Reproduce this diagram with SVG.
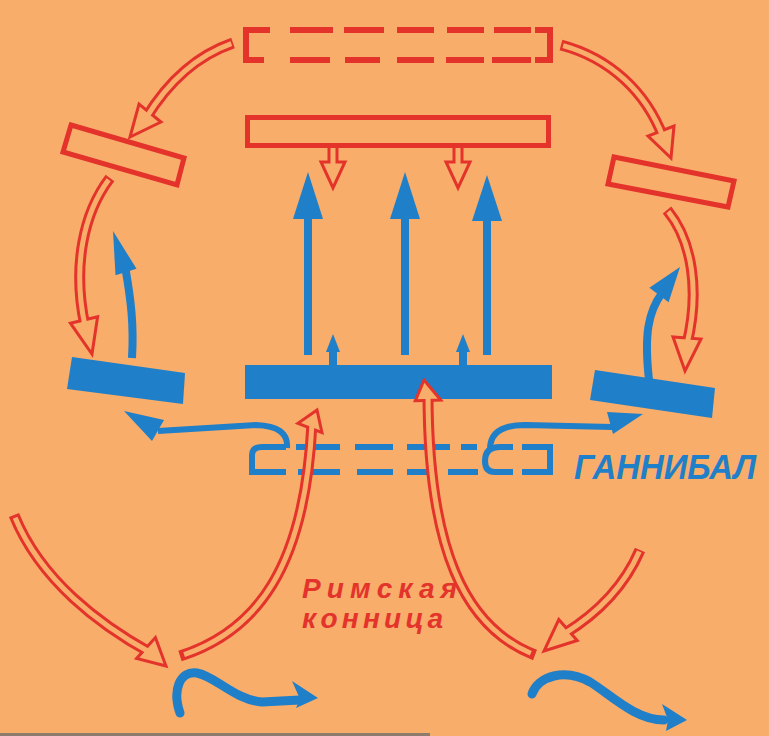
<svg xmlns="http://www.w3.org/2000/svg" width="769" height="736" viewBox="0 0 769 736">
<style>
.bg{fill:#F8AD6B}
.rl{fill:none;stroke:#E3332B;stroke-width:6}
.rbox{fill:none;stroke:#E3332B;stroke-width:5;stroke-linejoin:miter}
.rs{fill:none;stroke:#E3332B;stroke-width:11}
.ri{fill:none;stroke:#F8AD6B;stroke-width:5;stroke-dasharray:98.5 1.5;stroke-dashoffset:98.5}
.rh{fill:#F8AD6B;stroke:#E3332B;stroke-width:3;stroke-linejoin:miter}
.rd{fill:#F8AD6B;stroke:#E3332B;stroke-width:3}
.bf{fill:#1F7FC8}
.bs{fill:none;stroke:#1F7FC8;stroke-width:8;stroke-linecap:butt}
.bw{fill:none;stroke:#1F7FC8;stroke-width:9;stroke-linecap:round}
.bl{fill:none;stroke:#1F7FC8;stroke-width:6}
.tb{font-family:"Liberation Sans",Arial,sans-serif;font-weight:bold;font-style:italic;fill:#1F7FC8}
.tr{font-family:"Liberation Sans",Arial,sans-serif;font-weight:bold;font-style:italic;fill:#E3332B}
</style>
<rect class="bg" x="0" y="0" width="769" height="736"/>
<rect x="0" y="733" width="430" height="3" fill="#8d7b6e"/>

<g id="roman-rear-dashed">
<path class="rl" d="M270,30 L246,30 L246,60 L264,60"/>
<path class="rl" d="M290,30 H333 M344,30 H384 M397,30 H434 M447,30 H484 M494,30 H531"/>
<path class="rl" d="M290,60 H330 M345,60 H380 M397,60 H434 M446,60 H484 M492,60 H531"/>
<path class="rl" d="M535,30 L550,30 L550,60 L535,60"/>
</g>

<g id="roman-infantry">
<rect class="rbox" x="247.5" y="117.5" width="301" height="28"/>
</g>

<g id="roman-left-wing">
<polygon class="rbox" points="71,125 184,158 177,185 63,152"/>
</g>

<g id="roman-right-wing">
<polygon class="rbox" points="614,157 734,181 728,207 608,184"/>
</g>

<g id="hannibal-center">
<rect class="bf" x="245" y="365" width="307" height="34"/>
</g>

<g id="hannibal-left">
<polygon class="bf" points="72,357 185,373 183,404 67,389"/>
</g>

<g id="hannibal-right">
<polygon class="bf" points="595,370 715,388 712,418 590,400"/>
</g>

<g id="hannibal-dashed">
<path class="bl" d="M286,472 L252,472 L252,455 Q252,447 262,447 L286,447"/>
<path class="bl" d="M296,447 H340 M355,447 H393 M407,447 H450 M461,447 H477"/>
<path class="bl" d="M298,472 H340 M357,472 H393 M407,472 H437 M448,472 H478"/>
<path class="bl" d="M513,472 L495,472 Q485,472 485,461 Q485,447 500,447 L513,447"/>
<path class="bl" d="M522,447 L550,447 L550,472 L522,472"/>
</g>

<g id="labels">
<text class="tb" x="574" y="479" font-size="35" textLength="182" lengthAdjust="spacingAndGlyphs">ГАННИБАЛ</text>
<text class="tr" x="302" y="598" font-size="28" textLength="155" lengthAdjust="spacing">Римская</text>
<text class="tr" x="302" y="628" font-size="28" textLength="141" lengthAdjust="spacing">конница</text>
</g>

<g id="connectors">
<path class="rd" d="M329,148 L329,162 L321,162 L333,188 L345,162 L337,162 L337,148"/>
<path class="rd" d="M454,148 L454,162 L446,162 L458,188 L470,162 L462,162 L462,148"/>

<path class="bs" d="M308,355 V212"/>
<polygon class="bf" points="293,219 308,172 323,219"/>
<path class="bs" d="M405,355 V212"/>
<polygon class="bf" points="390,219 405,172 420,219"/>
<path class="bs" d="M487,355 V214"/>
<polygon class="bf" points="472,221 487,175 502,221"/>
<path class="bs" d="M333,365 V348" stroke-width="4"/>
<polygon class="bf" points="326,352 333,334 340,352"/>
<path class="bs" d="M463,365 V348" stroke-width="4"/>
<polygon class="bf" points="456,352 463,334 470,352"/>

<path class="bs" d="M132,358 C134,325 131,300 125,266"/>
<polygon class="bf" points="136.5,268.7 113,231 115.5,275.3"/>
<path class="bs" d="M649,380 C644,335 648,312 662,293"/>
<polygon class="bf" points="668.6,302.2 680,267 649.4,287.8"/>

<path class="bl" d="M287,448 Q289,426 256,425 L158,431"/>
<polygon class="bf" points="164,420 124,411 152,441"/>
<path class="bl" d="M490,448 Q491,425 525,425 L612,427"/>
<polygon class="bf" points="613,434 643,414 607,412"/>

<path class="bw" d="M180,713 C172,690 180,670 197,673 C215,676 235,700 262,702 L300,700"/>
<polygon class="bf" points="318,698 292,681 300,699 296,708"/>
<path class="bw" d="M532,694 C538,676 565,668 590,682 C610,694 635,720 664,720"/>
<polygon class="bf" points="687,720 662,704 668,720 666,731"/>

<path class="rs" d="M233,43 C198,55 168,82 146,118"/>
<polygon class="rh" points="161,122 130,137 139,104"/>
<path class="ri" pathLength="100" d="M233,43 C198,55 168,82 146,118"/>

<path class="rs" d="M110,178 C84,212 72,265 85,326"/>
<polygon class="rh" points="97.6,316.8 92,354 70.4,323.2"/>
<path class="ri" pathLength="100" d="M110,178 C84,212 72,265 85,326"/>

<path class="rs" d="M561,45 C610,58 646,92 663,137"/>
<polygon class="rh" points="674,126 671,158 648,136"/>
<path class="ri" pathLength="100" d="M561,45 C610,58 646,92 663,137"/>

<path class="rs" d="M667,210 C692,240 700,290 687,344"/>
<polygon class="rh" points="701,339 685,371 673,337"/>
<path class="ri" pathLength="100" d="M667,210 C692,240 700,290 687,344"/>

<path class="rs" d="M14,515 C40,580 100,625 151,653"/>
<polygon class="rh" points="155.4,637.6 166,666 136.6,658.4"/>
<path class="ri" pathLength="100" d="M14,515 C40,580 100,625 151,653"/>

<path class="rs" d="M180,656 C255,632 305,570 312,423"/>
<polygon class="rh" points="322,432.7 317,410 297.9,423.3"/>
<path class="ri" pathLength="100" d="M180,656 C255,632 305,570 312,423"/>

<path class="rs" d="M535,655 C465,628 428,550 428,393"/>
<polygon class="rh" points="440.7,400 424,380 415.3,400.8"/>
<path class="ri" pathLength="100" d="M535,655 C465,628 428,550 428,393"/>

<path class="rs" d="M640,550 C625,585 600,612 564,634"/>
<polygon class="rh" points="577.2,640.5 544,651 558.8,619.5"/>
<path class="ri" pathLength="100" d="M640,550 C625,585 600,612 564,634"/>
</g>
</svg>
